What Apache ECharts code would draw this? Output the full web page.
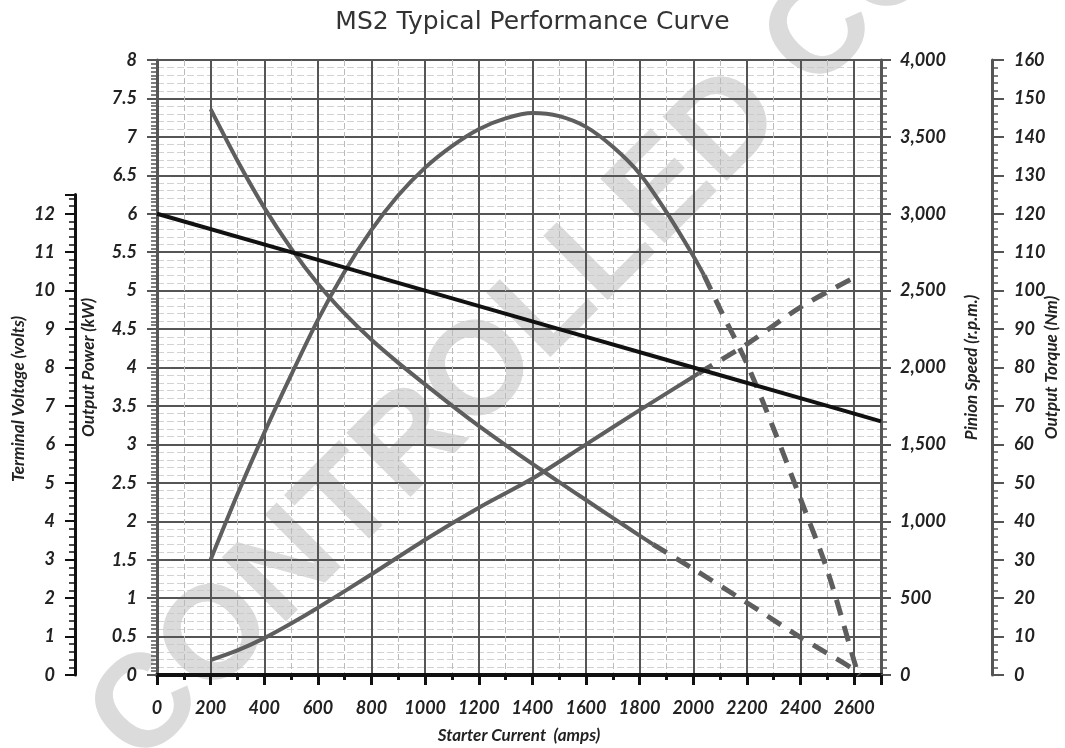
<!DOCTYPE html>
<html>
<head>
<meta charset="utf-8">
<title>MS2 Typical Performance Curve</title>
<script src="https://cdn.jsdelivr.net/npm/echarts@6/dist/echarts.min.js"></script>
<style>
  html, body { margin: 0; padding: 0; background: #fff; }
  #chart { width: 1065px; height: 748px; }
</style>
</head>
<body>
<div id="chart"></div>
<script>
// terminal voltage (black straight line)
var voltAmps = [0, 500, 1000, 1500, 2000, 2500, 2700]
var voltage = [12.0, 11.0, 10.0, 9.0, 8.0, 7.0, 6.6]

// output power kW (solid part, then dashed part)
var powerAmps = [200, 300, 400, 500, 600, 700, 800, 900, 1000, 1100, 1200, 1300, 1400, 1500, 1600, 1700, 1800, 1900, 2000, 2040]
var power = [1.5, 2.35, 3.15, 3.9, 4.62, 5.25, 5.79, 6.24, 6.6, 6.88, 7.1, 7.24, 7.31, 7.27, 7.13, 6.87, 6.52, 6.02, 5.45, 5.2]
var powerDashAmps = [2040, 2100, 2200, 2300, 2400, 2500, 2600, 2615]
var powerDash = [5.2, 4.76, 4.05, 3.2, 2.29, 1.36, 0.18, 0]

// pinion speed rpm
var speedAmps = [200, 300, 400, 500, 600, 700, 800, 900, 1000, 1100, 1200, 1300, 1400, 1500, 1600, 1700, 1800, 1850]
var speed = [3680, 3345, 3040, 2775, 2545, 2350, 2180, 2030, 1890, 1752, 1620, 1495, 1373, 1255, 1138, 1022, 907, 850]
var speedDashAmps = [1850, 2000, 2200, 2400, 2600, 2620]
var speedDash = [850, 690, 470, 245, 35, 0]

// output torque Nm
var torqueAmps = [200, 300, 400, 500, 600, 800, 1000, 1200, 1400, 1600, 1800, 2000, 2020]
var torque = [3.9, 6.4, 9.6, 13.4, 17.5, 26.2, 35.2, 43.5, 51.1, 60.0, 68.9, 77.6, 78.5]
var torqueDashAmps = [2020, 2200, 2400, 2600]
var torqueDash = [78.5, 86.1, 95.7, 103.4]

function pairs (xs, ys) {
  return xs.map(function (x, i) { return [x, ys[i]] })
}

var labelFont = { fontFamily: 'Lato', fontStyle: 'italic', fontWeight: 'bold', fontSize: 18, color: '#222' }
var nameFont = { fontFamily: 'Lato', fontStyle: 'italic', fontWeight: 'bold', fontSize: 17, color: '#222' }
var gray = '#5e5e5e'
var dash = [16, 11]

var myChart = echarts.init(document.getElementById('chart'))
myChart.setOption({
  animation: false,
  title: {
    text: 'MS2 Typical Performance Curve',
    left: 'center',
    top: 5,
    textStyle: { fontFamily: 'DejaVu Sans', fontWeight: 'normal', fontSize: 25, color: '#333' }
  },
  grid: [
    { left: 157, right: 184, top: 60, bottom: 73, outerBoundsMode: 'none' },
    // only carries the short terminal voltage scale
    { left: 75, width: 10, top: 194.5, bottom: 73, outerBoundsMode: 'none' }
  ],
  xAxis: [
    {
      type: 'value',
      gridIndex: 0,
      min: 0,
      max: 2700,
      interval: 200,
      z: 1,
      name: 'Starter Current  (amps)',
      nameLocation: 'middle',
      nameGap: 52,
      nameTextStyle: nameFont,
      axisLine: { lineStyle: { color: '#111', width: 4 } },
      axisTick: { length: 10, lineStyle: { color: '#111', width: 3 } },
      minorTick: { show: true, splitNumber: 2, length: 5, lineStyle: { color: '#111', width: 3 } },
      axisLabel: Object.assign({
        margin: 24,
        showMaxLabel: false,
        formatter: function (v) { return String(v) }
      }, labelFont),
      splitLine: { lineStyle: { color: '#555', width: 2 } },
      minorSplitLine: { show: true, lineStyle: { color: '#bbb', width: 1, type: [6, 3] } }
    },
    { type: 'value', gridIndex: 1, show: false, min: 0, max: 1 }
  ],
  yAxis: [
    {
      // output power
      type: 'value',
      gridIndex: 0,
      position: 'left',
      min: 0,
      max: 8,
      interval: 0.5,
      z: 1,
      name: 'Output Power (kW)',
      nameLocation: 'middle',
      nameRotate: 90,
      nameGap: 60,
      nameMoveOverlap: false,
      nameTextStyle: nameFont,
      axisLine: { show: true, lineStyle: { color: '#555', width: 3 } },
      axisTick: { length: 10, lineStyle: { color: '#555', width: 2 } },
      minorTick: { show: true, splitNumber: 10, length: 6, lineStyle: { color: '#555', width: 1.5 } },
      axisLabel: Object.assign({ margin: 20 }, labelFont),
      splitLine: { lineStyle: { color: '#555', width: 2 } }
    },
    {
      // pinion speed
      type: 'value',
      gridIndex: 0,
      position: 'right',
      min: 0,
      max: 4000,
      interval: 500,
      z: 1,
      name: 'Pinion Speed (r.p.m.)',
      nameLocation: 'middle',
      nameRotate: 90,
      nameGap: 82,
      nameMoveOverlap: false,
      nameTextStyle: nameFont,
      axisLine: { show: true, lineStyle: { color: '#555', width: 3 } },
      axisTick: { length: 10, lineStyle: { color: '#555', width: 2 } },
      minorTick: { show: true, splitNumber: 10, length: 6, lineStyle: { color: '#555', width: 1.5 } },
      axisLabel: Object.assign({
        margin: 19,
        formatter: function (v) { return v.toLocaleString('en-US') }
      }, labelFont),
      splitLine: { show: false }
    },
    {
      // output torque
      type: 'value',
      gridIndex: 0,
      position: 'right',
      offset: 111,
      min: 0,
      max: 160,
      interval: 10,
      z: 1,
      name: 'Output Torque (Nm)',
      nameLocation: 'middle',
      nameRotate: 90,
      nameGap: 51,
      nameMoveOverlap: false,
      nameTextStyle: nameFont,
      axisLine: { show: true, lineStyle: { color: '#555', width: 3 } },
      axisTick: { length: 12, lineStyle: { color: '#555', width: 2 } },
      minorTick: { show: true, splitNumber: 5, length: 6, lineStyle: { color: '#555', width: 1.5 } },
      axisLabel: Object.assign({ margin: 22 }, labelFont),
      splitLine: { show: false }
    },
    {
      // voltage scale behind the black line (12 V sits at 6 kW), also gives the light 0.1 kW lines
      type: 'value',
      gridIndex: 0,
      position: 'left',
      min: 0,
      max: 16,
      interval: 0.2,
      z: 0,
      axisLine: { show: false },
      axisTick: { show: false },
      axisLabel: { show: false },
      splitLine: { lineStyle: { color: '#d2d2d2', width: 1, type: [7, 3] } }
    },
    {
      // terminal voltage scale as drawn
      type: 'value',
      gridIndex: 1,
      position: 'left',
      min: 0,
      max: 12.5,
      interval: 1,
      axisLine: { show: true, lineStyle: { color: '#111', width: 3 } },
      axisTick: { length: 10, lineStyle: { color: '#111', width: 2 } },
      minorTick: { show: true, splitNumber: 5, length: 6, lineStyle: { color: '#111', width: 1.5 } },
      axisLabel: Object.assign({ margin: 20, showMaxLabel: false }, labelFont),
      splitLine: { show: false }
    }
  ],
  graphic: [
    {
      type: 'text',
      x: 19,
      y: 399,
      rotation: Math.PI / 2,
      style: {
        text: 'Terminal Voltage (volts)',
        align: 'center',
        verticalAlign: 'middle',
        font: 'italic bold 17px Lato',
        fill: '#222'
      }
    },
    {
      // watermark
      type: 'text',
      x: 114,
      y: 742,
      z: 1,
      rotation: Math.PI / 4,
      style: {
        text: 'CONTROLLED COPY',
        align: 'left',
        verticalAlign: 'middle',
        font: 'bold 132px "Liberation Sans"',
        fill: 'rgba(200,200,200,0.65)'
      }
    }
  ],
  series: [
    { name: 'Output Power', type: 'line', yAxisIndex: 0, data: pairs(powerAmps, power), smooth: 0.3, symbol: 'none', lineStyle: { color: gray, width: 4 } },
    { name: 'Output Power dashed', type: 'line', yAxisIndex: 0, data: pairs(powerDashAmps, powerDash), smooth: 0.3, symbol: 'none', lineStyle: { color: gray, width: 5, type: dash } },
    { name: 'Pinion Speed', type: 'line', yAxisIndex: 1, data: pairs(speedAmps, speed), smooth: 0.3, symbol: 'none', lineStyle: { color: gray, width: 4 } },
    { name: 'Pinion Speed dashed', type: 'line', yAxisIndex: 1, data: pairs(speedDashAmps, speedDash), smooth: 0.3, symbol: 'none', lineStyle: { color: gray, width: 5, type: dash } },
    { name: 'Output Torque', type: 'line', yAxisIndex: 2, data: pairs(torqueAmps, torque), smooth: 0.3, symbol: 'none', lineStyle: { color: gray, width: 4 } },
    { name: 'Output Torque dashed', type: 'line', yAxisIndex: 2, data: pairs(torqueDashAmps, torqueDash), smooth: 0.3, symbol: 'none', lineStyle: { color: gray, width: 5, type: dash } },
    { name: 'Terminal Voltage', type: 'line', yAxisIndex: 3, data: pairs(voltAmps, voltage), symbol: 'none', lineStyle: { color: '#111', width: 4 } }
  ]
}, true)
</script>
</body>
</html>
